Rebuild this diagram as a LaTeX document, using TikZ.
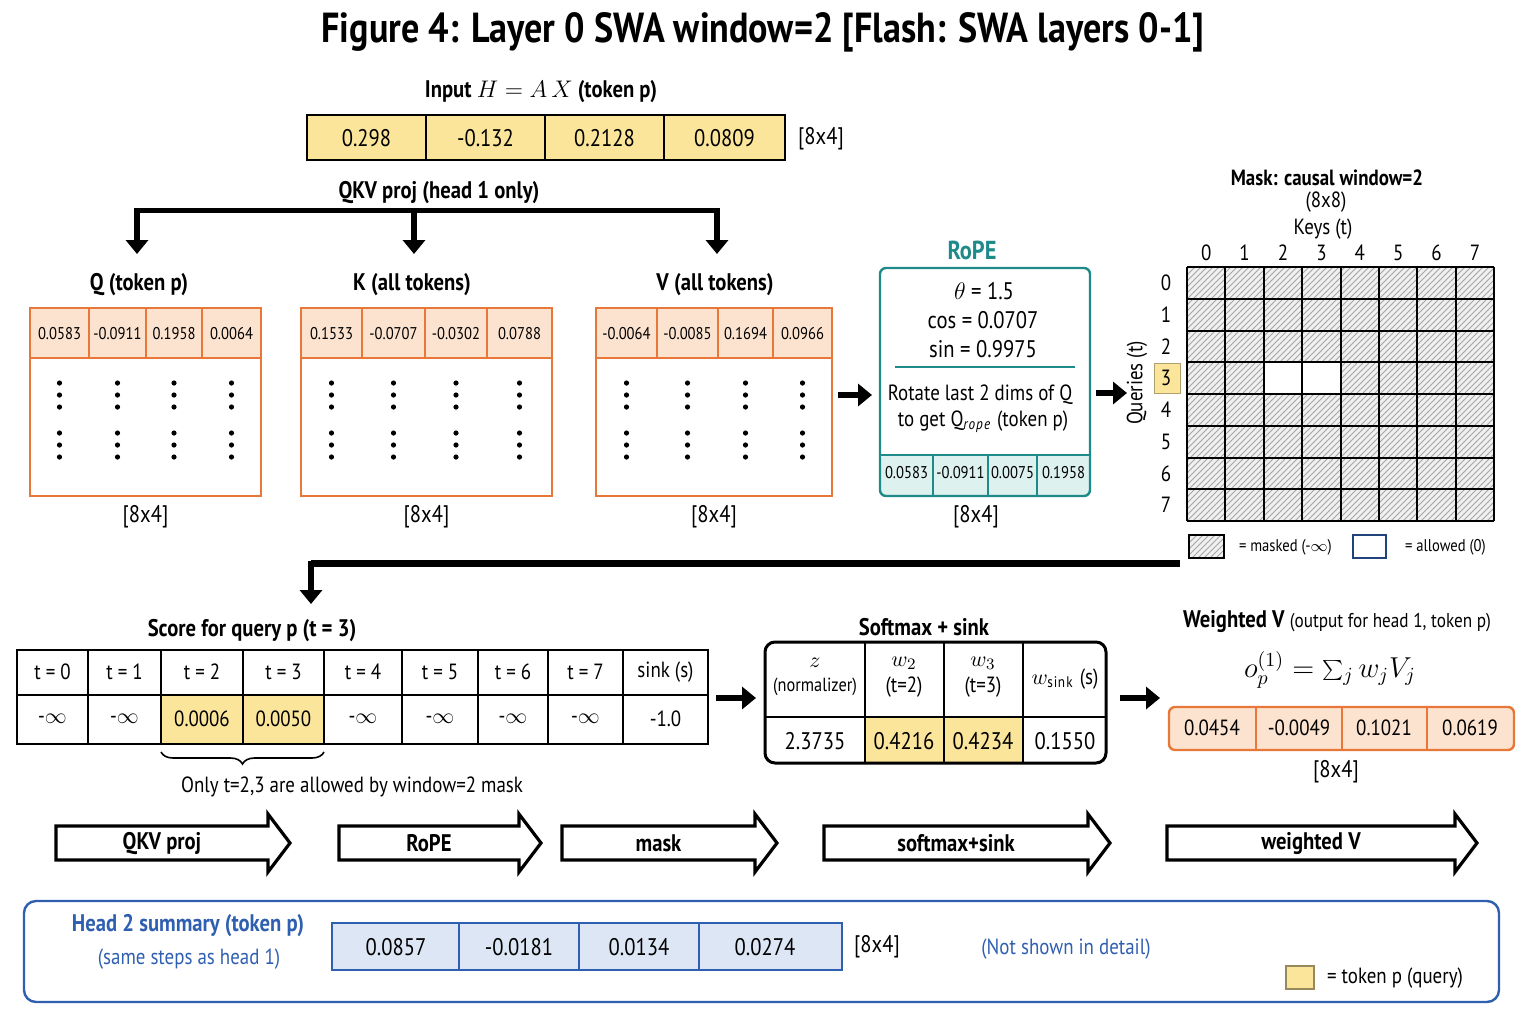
\documentclass[tikz,border=0pt]{standalone}
\usepackage{fontspec}
\setmainfont{PT Sans}[FakeStretch=0.86]
\usetikzlibrary{arrows.meta,patterns,decorations.pathreplacing}
\definecolor{yel}{HTML}{FBE59A}
\definecolor{org}{HTML}{E8783A}
\definecolor{orgf}{HTML}{FCE3CF}
\definecolor{teal2}{HTML}{1F8A8A}
\definecolor{tealf}{HTML}{DDF1EE}
\definecolor{blu}{HTML}{2F5FB0}
\definecolor{bluf}{HTML}{DCE6F4}
\tikzset{
 fat/.style={line width=3pt,-{Triangle[length=7pt,width=11pt]}},
 big/.style={font=\fontsize{12}{14}\selectfont},
 hd/.style={font=\fontsize{12}{14}\selectfont\bfseries},
 med/.style={font=\fontsize{11}{13}\selectfont},
 sml/.style={font=\fontsize{8.5}{10}\selectfont},
}
\newcommand\vdotsat[2]{\fill ({#1},{#2-12}) circle (1.3pt) ({#1},{#2}) circle (1.3pt) ({#1},{#2+12}) circle (1.3pt);}
\newcommand\blockarrow[4]{\draw[line width=1.6pt,line join=miter] (#1,#3-17)--(#2-22,#3-17)--(#2-22,#3-29)--(#2,#3)--(#2-22,#3+29)--(#2-22,#3+17)--(#1,#3+17)--cycle;
 \node[hd] at ({(#1+#2-22)/2},#3) {#4};}
\begin{document}
\begin{tikzpicture}[x=0.5pt,y=-0.5pt]
\useasboundingbox (0,0) rectangle (1536,1024);
\node[font=\fontsize{21}{24}\selectfont\bfseries] (title) at (763,32) {Figure 4: Layer 0 SWA window=2 [Flash: SWA layers 0-1]};
% input
\node[hd] (inlab) at (541,92) {Input $H = A\,X$ (token p)};
\foreach \a/\b/\t in {307/426/0.298,426/545/-0.132,545/664/0.2128,664/785/0.0809}{
 \draw[fill=yel,line width=1pt] (\a,115) rectangle (\b,160);
 \node[big] at ({(\a+\b)/2},138) {\t};}
\node[big] at (821,139) {[8x4]};
% qkv bracket
\node[hd] (qkv) at (439,193) {QKV proj (head 1 only)};
\draw[line width=2.5pt] (137,210) -- (717,210);
\foreach \x in {137,414,717}{\draw[fat] (\x,208) -- (\x,254);}
% Q K V
\foreach \lab/\lx/\ya/\yb in {
 {Q (token p)}/139/30/261,
 {K (all tokens)}/412/301/552,
 {V (all tokens)}/715/596/832}{
 \node[hd] at (\lx,285) {\lab};
 \fill[orgf] (\ya,308) rectangle (\yb,358);
 \draw[org,line width=1pt] (\ya,308) rectangle (\yb,496) (\ya,358) -- (\yb,358);
 \node[big] at ({(\ya+\yb)/2},517) {[8x4]};
}
\foreach \a/\b/\t in {30/89/0.0583,89/146/-0.0911,146/202/0.1958,202/261/0.0064,
 301/362/0.1533,362/425/-0.0707,425/487/-0.0302,487/552/0.0788,
 596/657/-0.0064,657/718/-0.0085,718/773/0.1694,773/832/0.0966}{
 \node[sml] at ({(\a+\b)/2},334) {\t};
 \vdotsat{(\a+\b)/2}{395} \vdotsat{(\a+\b)/2}{445}}
\foreach \x in {89,146,202,362,425,487,657,718,773}{\draw[org,line width=0.6pt] (\x,308)--(\x,358);}
\draw[fat] (838,395) -- (872,395);
% RoPE
\node[text=teal2,font=\fontsize{13}{15}\selectfont\bfseries] (rope) at (972,250) {RoPE};
\fill[tealf,rounded corners=3pt] (880,455) rectangle (1090,496);
\draw[teal2,line width=1.2pt,rounded corners=3pt] (880,268) rectangle (1090,496);
\draw[teal2,line width=0.8pt] (880,455)--(1090,455);
\node[big] at (984,291) {$\theta$ = 1.5};
\node[big] at (983,320) {cos = 0.0707};
\node[big] at (983,349) {sin = 0.9975};
\draw[teal2,line width=1.2pt] (895,367)--(1075,367);
\node[med] at (980,395) {Rotate last 2 dims of Q};
\node[med] at (983,422) {to get Q$_{\mathit{rope}}$ (token p)};
\foreach \a/\b/\t in {880/933/0.0583,933/988/-0.0911,988/1037/0.0075,1037/1090/0.1958}{
 \node[sml] at ({(\a+\b)/2},473) {\t};}
\foreach \x in {933,988,1037}{\draw[teal2,line width=0.6pt] (\x,455)--(\x,496);}
\node[big] at (976,517) {[8x4]};
\draw[fat] (1096,393) -- (1127,393);
% mask
\node[hd,font=\fontsize{11}{13}\selectfont\bfseries] at (1327,178) {Mask: causal window=2};
\node[med] at (1326,202) {(8x8)};
\node[med] at (1323,229) {Keys (t)};
\node[med,rotate=90] at (1137,383) {Queries (t)};
\fill[yel] (1154,363) rectangle (1180,393);
\draw[yel!70!black,line width=0.5pt] (1154,363) rectangle (1180,393);
\foreach \i in {0,...,7}{
 \node[med] at ({1187+38.4*(\i+0.5)},253) {\i};
 \node[med] at (1166,{267+31.75*(\i+0.5)}) {\i};}
\fill[gray!12] (1187,267) rectangle (1494,521);
\fill[pattern=north east lines,pattern color=gray!70] (1187,267) rectangle (1494,521);
\fill[white] ({1187+38.4*2},{267+31.75*3}) rectangle ({1187+38.4*4},{267+31.75*4});
\foreach \i in {0,...,8}{
 \draw[line width=1pt] ({1187+38.4*\i},267) -- ({1187+38.4*\i},521);
 \draw[line width=1pt] (1187,{267+31.75*\i}) -- (1494,{267+31.75*\i});}
\fill[gray!12] (1189,535) rectangle (1224,558);
\fill[pattern=north east lines,pattern color=gray!70] (1189,535) rectangle (1224,558);
\draw[line width=0.8pt] (1189,535) rectangle (1224,558);
\node[sml,anchor=west] at (1232,547) {= masked (-$\infty$)};
\draw[blu!70!black,line width=1pt] (1353,535) rectangle (1386,558);
\node[sml,anchor=west] at (1398,547) {= allowed (0)};
\draw[line width=3.5pt] (1180,563) -- (311,563);
\draw[fat] (311,561) -- (311,604);
% score
\node[hd] at (252,631) {Score for query p (t = 3)};
\fill[yel] (161,695) rectangle (324,744);
\draw[line width=1pt] (17,650) rectangle (708,744) (17,695)--(708,695);
\foreach \x in {88,161,243,324,402,478,548,623}{\draw[line width=1pt] (\x,650)--(\x,744);}
\foreach \a/\b/\h/\v in {17/88/{t = 0}/{-$\infty$},88/161/{t = 1}/{-$\infty$},161/243/{t = 2}/0.0006,243/324/{t = 3}/0.0050,324/402/{t = 4}/{-$\infty$},402/478/{t = 5}/{-$\infty$},478/548/{t = 6}/{-$\infty$},548/623/{t = 7}/{-$\infty$},623/708/{sink (s)}/-1.0}{
 \node[med] at ({(\a+\b)/2},672) {\h};
 \node[med] at ({(\a+\b)/2},719) {\v};}
\draw[decorate,decoration={brace,mirror,amplitude=6pt},line width=0.8pt] (161,752) -- (324,752);
\node[med] at (352,787) {Only t=2,3 are allowed by window=2 mask};
\draw[fat] (716,698) -- (756,698);
% softmax
\node[hd] at (924,627) {Softmax + sink};
\fill[yel] (865,717) rectangle (1023,763);
\draw[line width=1.5pt,rounded corners=5pt] (765,642) rectangle (1106,763);
\draw[line width=0.8pt] (765,717)--(1106,717);
\foreach \x in {865,944,1023}{\draw[line width=0.8pt] (\x,642)--(\x,763);}
\node[med,align=center] at (815,677) {$z$\\[-1pt]{\fontsize{9.5}{11}\selectfont (normalizer)}};
\node[med,align=center] at (904,677) {$w_2$\\(t=2)};
\node[med,align=center] at (983,677) {$w_3$\\(t=3)};
\node[med] at (1065,679) {$w_{\mathrm{sink}}$ (s)};
\foreach \c/\v in {815/2.3735,904/0.4216,983/0.4234,1065/0.1550}{\node[big] at (\c,741) {\v};}
\draw[fat] (1120,698) -- (1160,698);
% weighted V
\node[hd] at (1337,621) {Weighted V {\fontsize{10}{12}\selectfont\mdseries(output for head 1, token p)}};
\node[font=\fontsize{14}{16}\selectfont] at (1330,670) {$o_p^{(1)} = \sum_j w_j V_j$};
\draw[org,fill=orgf,line width=1.2pt,rounded corners=3pt] (1169,707) rectangle (1514,750);
\foreach \x in {1256,1342,1427}{\draw[org,line width=0.8pt] (\x,707)--(\x,750);}
\foreach \c/\v in {1212/0.0454,1299/-0.0049,1384/0.1021,1470/0.0619}{\node[med] at (\c,728) {\v};}
\node[big] at (1336,772) {[8x4]};
% process arrows
\blockarrow{56}{290}{843}{QKV proj}
\blockarrow{339}{541}{843}{RoPE}
\blockarrow{562}{777}{843}{mask}
\blockarrow{824}{1110}{843}{softmax+sink}
\blockarrow{1167}{1477}{843}{weighted V}
% bottom panel
\draw[blu,line width=1.2pt,rounded corners=6pt] (24,901) rectangle (1499,1002);
\node[hd,text=blu] at (188,926) {Head 2 summary (token p)};
\node[med,text=blu] at (189,959) {(same steps as head 1)};
\draw[blu,fill=bluf,line width=1pt] (332,923) rectangle (842,970);
\foreach \x in {459,579,699}{\draw[blu,line width=0.8pt] (\x,923)--(\x,970);}
\foreach \c/\v in {396/0.0857,519/-0.0181,639/0.0134,765/0.0274}{\node[big] at (\c,947) {\v};}
\node[big] at (877,947) {[8x4]};
\node[med,text=blu] at (1066,949) {(Not shown in detail)};
\draw[fill=yel,draw=yel!60!black,line width=0.6pt] (1286,966) rectangle (1314,989);
\node[med,anchor=west] at (1320,978) {= token p (query)};
\end{tikzpicture}
\end{document}
